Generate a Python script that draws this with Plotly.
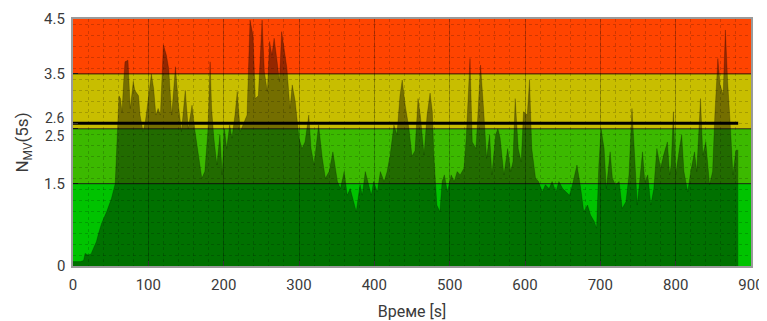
import plotly.graph_objects as go

# ---- data ----
time_s = [0, 5, 10, 14, 16, 20, 24, 27, 31, 34, 38, 45, 51, 56, 59, 61, 63, 65, 67, 69, 73, 76,
          80, 82, 87, 89, 93, 96, 100, 104, 107, 110, 113, 116, 120, 124, 127, 131, 136, 140,
          144, 149, 153, 158, 162, 167, 171, 175, 179, 182, 184, 187, 191, 195, 198, 201, 204,
          208, 211, 215, 218, 222, 226, 231, 235, 239, 242, 246, 251, 254, 258, 261, 264, 267,
          271, 274, 277, 280, 284, 288, 291, 295, 300, 304, 308, 313, 316, 320, 326, 331, 335,
          340, 345, 351, 355, 360, 364, 368, 373, 376, 381, 384, 388, 393, 396, 399, 404, 408,
          413, 417, 421, 426, 430, 434, 437, 441, 446, 450, 454, 458, 461, 466, 470, 474, 477,
          479, 483, 487, 490, 493, 497, 502, 506, 510, 514, 519, 522, 527, 530, 535, 538, 541,
          545, 549, 553, 556, 561, 564, 567, 572, 577, 581, 584, 587, 591, 595, 598, 603, 606,
          609, 614, 618, 623, 627, 632, 636, 641, 645, 650, 654, 659, 663, 669, 674, 678, 683,
          687, 692, 695, 698, 701, 705, 708, 713, 716, 720, 725, 729, 734, 738, 742, 745, 749,
          753, 756, 759, 763, 767, 771, 775, 780, 784, 789, 792, 794, 797, 800, 805, 808, 811,
          816, 820, 825, 828, 833, 836, 840, 845, 849, 852, 856, 859, 863, 866, 869, 873, 876,
          880, 883]
nmv_5s = [0.08, 0.08, 0.08, 0.1, 0.23, 0.2, 0.22, 0.32, 0.44, 0.6, 0.78, 1.0, 1.23, 1.5, 2.45,
          3.1, 3.05, 2.8, 3.3, 3.72, 3.75, 2.87, 3.36, 3.2, 3.1, 2.75, 2.45, 2.63, 3.05, 3.5,
          3.24, 2.75, 2.87, 2.75, 4.03, 3.84, 3.6, 2.75, 3.63, 2.93, 2.45, 3.2, 2.5, 2.93, 2.45,
          2.02, 1.6, 1.72, 2.45, 3.72, 2.87, 2.33, 1.84, 2.39, 1.66, 2.5, 2.14, 2.57, 2.33,
          2.75, 3.18, 2.45, 2.6, 2.75, 4.48, 4.2, 3.05, 3.1, 4.48, 3.54, 3.18, 4.09, 3.84,
          4.15, 3.72, 3.36, 4.27, 3.96, 3.6, 2.87, 3.3, 3.0, 2.33, 2.14, 2.26, 2.75, 2.14, 1.84,
          2.57, 1.96, 1.6, 1.72, 2.08, 1.54, 1.41, 1.72, 1.29, 1.41, 1.17, 0.99, 1.48, 1.29,
          1.72, 1.48, 1.29, 1.54, 1.35, 1.72, 1.54, 1.72, 2.02, 2.57, 2.39, 3.1, 3.39, 2.93,
          2.5, 2.0, 2.1, 3.05, 2.75, 2.02, 2.75, 3.15, 2.81, 2.02, 1.11, 0.99, 1.54, 1.66, 1.35,
          1.66, 1.54, 1.72, 1.66, 1.78, 2.33, 3.78, 2.26, 2.14, 3.0, 3.66, 2.87, 1.96, 2.39,
          1.66, 2.39, 2.5, 2.33, 1.66, 2.14, 1.72, 1.9, 3.05, 2.14, 1.9, 2.81, 2.75, 3.39, 2.14,
          1.6, 1.54, 1.35, 1.48, 1.41, 1.54, 1.35, 1.54, 1.41, 1.35, 1.29, 1.48, 1.84, 1.41,
          0.99, 1.11, 0.93, 0.81, 0.69, 1.84, 2.5, 2.14, 1.41, 2.08, 1.6, 1.48, 1.54, 1.05,
          1.17, 1.66, 2.87, 2.14, 1.11, 1.66, 2.08, 1.54, 1.66, 1.11, 1.41, 2.14, 1.78, 2.02,
          2.26, 1.66, 1.84, 2.81, 1.66, 2.14, 2.39, 1.72, 1.35, 1.72, 2.08, 1.72, 3.05, 2.02,
          2.26, 1.48, 1.72, 2.75, 3.78, 3.3, 3.12, 4.3, 3.36, 2.45, 1.66, 2.11, 2.11]

band_edges = [0, 1.5, 2.5, 3.5, 4.5]
band_colors = ["#00C300", "#3CB900", "#C8BE00", "#FF4400"]
threshold = 2.6
y_tickvals = [0, 1.5, 2.5, 2.6, 3.5, 4.5]
y_ticktext = ["0", "1.5", "2.5", "2.6", "3.5", "4.5"]
x_tickvals = [0, 100, 200, 300, 400, 500, 600, 700, 800, 900]

FONT = "Roboto, DejaVu Sans, sans-serif"
TXT = "#3a3a3a"

fig = go.Figure()

fig.add_trace(go.Scatter(
    x=time_s, y=nmv_5s, mode="lines",
    line=dict(width=0.6, color="rgba(0,0,0,0.35)"),
    fill="tozeroy", fillcolor="rgba(0,0,0,0.42)",
    hoverinfo="skip", showlegend=False,
))

# threshold line
fig.add_trace(go.Scatter(
    x=[time_s[0], time_s[-1]], y=[threshold, threshold], mode="lines",
    line=dict(width=3, color="black"), showlegend=False, hoverinfo="skip",
))

shapes = []
for i, c in enumerate(band_colors):
    shapes.append(dict(type="rect", xref="x domain", yref="y", x0=0, x1=1,
                       y0=band_edges[i], y1=band_edges[i + 1],
                       fillcolor=c, line=dict(width=0), layer="below"))
for e in band_edges[1:-1]:
    shapes.append(dict(type="line", xref="x domain", yref="y", x0=0, x1=1,
                       y0=e, y1=e, line=dict(color="rgba(0,0,0,0.8)", width=1),
                       layer="above"))

# y tick labels written as annotations so that the close pair 2.5 / 2.6 can be nudged apart
label_shift = {2.6: 5, 2.5: -7}
annotations = []
for v, t in zip(y_tickvals, y_ticktext):
    annotations.append(dict(x=0, xref="paper", xanchor="right", xshift=-6,
                            y=v, yref="y", yanchor="middle", yshift=label_shift.get(v, 0),
                            text=t, showarrow=False,
                            font=dict(family=FONT, size=14 if v in label_shift else 15,
                                      color=TXT)))

fig.update_layout(
    width=759, height=313,
    margin=dict(l=65, r=16, t=11, b=55, autoexpand=False),
    paper_bgcolor="white", plot_bgcolor="white",
    shapes=shapes, annotations=annotations,
    font=dict(family=FONT, size=15, color=TXT),
)

fig.update_xaxes(
    range=[0, 900], tickvals=x_tickvals, automargin=False,
    ticks="inside", ticklen=5, tickcolor="#333333",
    tickfont=dict(size=15, color=TXT), ticklabelstandoff=4,
    showline=True, linecolor="#9a9a9a", linewidth=1.5, mirror=True,
    showgrid=True, gridcolor="rgba(0,0,0,0.22)", gridwidth=1,
    minor=dict(dtick=20, tick0=0, showgrid=True, gridcolor="rgba(0,0,0,0.18)",
               griddash="dot", gridwidth=1),
    title=dict(text="Време [s]", font=dict(size=16, color=TXT), standoff=20),
    zeroline=False,
)
fig.update_yaxes(
    range=[0, 4.5], tickvals=y_tickvals, ticktext=[""] * len(y_tickvals),
    automargin=False,
    ticks="inside", ticklen=5, tickcolor="#333333",
    showline=True, linecolor="#9a9a9a", linewidth=1.5, mirror=True,
    showgrid=False,
    minor=dict(tickmode="linear", dtick=0.2, tick0=0, showgrid=True,
               gridcolor="rgba(0,0,0,0.18)", griddash="dot", gridwidth=1),
    title=dict(text="N<sub>MV</sub>(5s)", font=dict(size=17, color=TXT), standoff=35),
    zeroline=False,
)

fig.write_html("out.html")
